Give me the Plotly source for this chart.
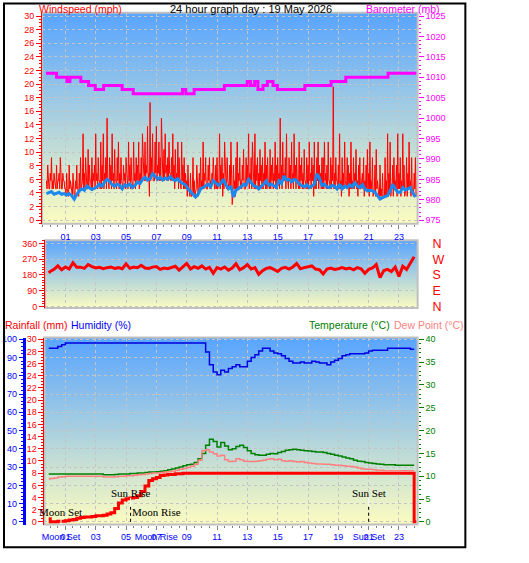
import base64
import plotly.graph_objects as go

W, H = 529, 563

# ---------------- data ----------------
gust_start, gust_step = -0.25, 1 / 12
wind_gust = [
    5.8, 8.1, 4.6,
    6.9, 9.2, 5.8, 6.9, 4.6, 8.1, 5.8, 6.9, 9.2, 4.6, 6.9, 5.8,
    4.6, 6.9, 3.5, 8.1, 5.8, 4.6, 6.9, 3.5, 5.8, 8.1, 4.6, 6.9,
    9.2, 5.8, 12.7, 6.9, 9.2, 4.6, 10.4, 8.1, 5.8, 9.2, 6.9, 8.1,
    12.7, 6.9, 9.2, 5.8, 11.5, 8.1, 12.7, 6.9, 9.2, 15.0, 5.8, 9.2,
    8.1, 12.7, 6.9, 10.4, 5.8, 9.2, 11.5, 6.9, 9.2, 4.6, 8.1, 6.9,
    9.2, 5.8, 11.5, 8.1, 9.2, 4.6, 11.5, 6.9, 9.2, 8.1, 11.5, 6.9,
    9.2, 12.7, 6.9, 11.5, 8.1, 13.8, 6.9, 17.3, 9.2, 12.7, 5.8, 11.5,
    13.8, 8.1, 11.5, 9.2, 15.0, 6.9, 10.4, 12.7, 8.1, 9.2, 11.5, 6.9,
    9.2, 12.7, 8.1, 10.4, 6.9, 11.5, 9.2, 5.8, 11.5, 8.1, 9.2, 6.9,
    5.8, 8.1, 4.6, 6.9, 3.5, 9.2, 5.8, 4.6, 8.1, 3.5, 6.9, 9.2,
    5.8, 11.5, 6.9, 9.2, 4.6, 8.1, 9.2, 5.8, 6.9, 9.2, 4.6, 8.1,
    9.2, 5.8, 12.7, 8.1, 9.2, 6.9, 11.5, 5.8, 9.2, 4.6, 8.1, 11.5,
    2.3, 8.1, 5.8, 9.2, 11.5, 6.9, 9.2, 5.8, 8.1, 10.4, 4.6, 9.2,
    8.1, 12.7, 6.9, 9.2, 11.5, 5.8, 12.7, 8.1, 9.2, 6.9, 10.4, 8.1,
    9.2, 6.9, 11.5, 8.1, 9.2, 5.8, 10.4, 8.1, 9.2, 6.9, 11.5, 8.1,
    9.2, 6.9, 15.0, 8.1, 11.5, 6.9, 9.2, 12.7, 5.8, 9.2, 8.1, 11.5,
    6.9, 12.7, 8.1, 9.2, 5.8, 11.5, 8.1, 9.2, 6.9, 10.4, 5.8, 9.2,
    8.1, 11.5, 6.9, 9.2, 8.1, 11.5, 5.8, 9.2, 11.5, 8.1, 6.9, 9.2,
    9.2, 11.5, 6.9, 8.1, 11.5, 5.8, 9.2, 8.1, 19.6, 6.9, 9.2, 5.8,
    8.1, 12.7, 5.8, 9.2, 6.9, 11.5, 4.6, 9.2, 8.1, 6.9, 11.5, 5.8,
    9.2, 6.9, 10.4, 5.8, 8.1, 9.2, 4.6, 6.9, 9.2, 5.8, 8.1, 10.4,
    6.9, 11.5, 5.8, 9.2, 4.6, 8.1, 10.4, 5.8, 3.5, 8.1, 4.6, 6.9,
    3.5, 9.2, 5.8, 12.7, 6.9, 11.5, 4.6, 8.1, 9.2, 5.8, 8.1, 12.7,
    6.9, 9.2, 5.8, 12.7, 8.1, 4.6, 9.2, 6.9, 11.5, 5.8, 9.2, 4.6,
    6.9, 9.2,
]
# lulls between the gust readings (half a step later)
wind_lull = [
    4.6, 5.8, 4.6,
    5.8, 4.6, 4.6, 5.8, 4.6, 4.6, 5.8, 4.6, 4.6, 4.6, 5.8, 4.6,
    3.5, 4.6, 3.5, 4.6, 4.6, 3.5, 4.6, 3.5, 4.6, 4.6, 3.5, 4.6,
    4.6, 5.8, 4.6, 4.6, 5.8, 4.6, 4.6, 5.8, 4.6, 4.6, 5.8, 4.6,
    5.8, 4.6, 5.8, 4.6, 4.6, 5.8, 4.6, 5.8, 4.6, 5.8, 4.6, 5.8,
    4.6, 5.8, 4.6, 5.8, 4.6, 5.8, 4.6, 4.6, 5.8, 4.6, 5.8, 4.6,
    5.8, 4.6, 5.8, 4.6, 5.8, 4.6, 5.8, 4.6, 5.8, 5.8, 4.6, 5.8,
    5.8, 6.9, 5.8, 5.8, 6.9, 5.8, 3.5, 5.8, 6.9, 5.8, 5.8, 6.9,
    5.8, 6.9, 5.8, 5.8, 6.9, 5.8, 5.8, 6.9, 5.8, 5.8, 6.9, 5.8,
    5.8, 5.8, 4.6, 5.8, 5.8, 4.6, 5.8, 4.6, 5.8, 4.6, 4.6, 4.6,
    3.5, 4.6, 3.5, 3.5, 4.6, 3.5, 3.5, 4.6, 3.5, 4.6, 4.6, 4.6,
    4.6, 4.6, 5.8, 4.6, 4.6, 5.8, 4.6, 4.6, 5.8, 4.6, 4.6, 4.6,
    4.6, 5.8, 4.6, 5.8, 3.5, 4.6, 5.8, 4.6, 5.8, 4.6, 4.6, 3.5,
    3.5, 4.6, 3.5, 4.6, 4.6, 5.8, 4.6, 4.6, 5.8, 4.6, 4.6, 5.8,
    5.8, 4.6, 5.8, 4.6, 5.8, 4.6, 4.6, 5.8, 4.6, 4.6, 5.8, 4.6,
    4.6, 5.8, 4.6, 4.6, 5.8, 4.6, 4.6, 5.8, 4.6, 5.8, 4.6, 4.6,
    5.8, 4.6, 5.8, 4.6, 5.8, 5.8, 4.6, 5.8, 4.6, 5.8, 4.6, 5.8,
    4.6, 5.8, 4.6, 5.8, 4.6, 4.6, 5.8, 4.6, 4.6, 5.8, 4.6, 4.6,
    4.6, 5.8, 4.6, 5.8, 3.5, 4.6, 4.6, 5.8, 4.6, 5.8, 4.6, 4.6,
    4.6, 5.8, 4.6, 4.6, 5.8, 4.6, 4.6, 5.8, 4.6, 4.6, 5.8, 4.6,
    4.6, 4.6, 3.5, 4.6, 4.6, 5.8, 4.6, 4.6, 3.5, 4.6, 4.6, 4.6,
    4.6, 5.8, 4.6, 3.5, 4.6, 4.6, 5.8, 4.6, 3.5, 4.6, 4.6, 4.6,
    3.5, 4.6, 4.6, 3.5, 4.6, 3.5, 4.6, 3.5, 3.5, 3.5, 3.5, 3.5,
    3.5, 3.5, 3.5, 3.5, 4.6, 3.5, 4.6, 3.5, 4.6, 4.6, 3.5, 4.6,
    4.6, 3.5, 4.6, 4.6, 3.5, 4.6, 3.5, 4.6, 4.6, 3.5, 4.6, 3.5,
    4.6, 3.5,
]

avg_start, avg_step = -0.25, 1 / 6
wind_avg = [
    3.9, 4.1,
    4.2, 3.8, 4.0, 4.1, 3.8, 3.9,
    3.7, 3.9, 3.6, 3.1, 3.8, 4.3,
    4.6, 4.4, 5.0, 4.7, 4.5, 4.7,
    4.9, 5.3, 5.0, 5.6, 6.0, 5.7,
    5.2, 5.0, 5.3, 5.1, 4.6, 5.2,
    5.0, 5.3, 4.8, 5.1, 5.6, 5.4,
    6.0, 6.3, 5.9, 6.1, 6.8, 6.5,
    6.0, 6.3, 5.9, 6.2, 6.0, 6.4,
    6.0, 5.8, 6.1, 5.6, 5.4, 5.2,
    4.6, 4.2, 3.9, 3.4, 3.8, 4.6,
    4.8, 5.1, 5.3, 4.9, 5.8, 5.5,
    5.1, 5.4, 6.0, 5.2, 4.6, 5.0,
    3.4, 4.4, 4.6, 4.9, 5.3, 5.1,
    6.0, 5.6, 5.1, 4.9, 4.6, 5.0,
    5.3, 5.8, 5.1, 5.3, 5.0, 4.8,
    5.8, 5.4, 6.5, 5.9, 6.0, 5.6,
    6.0, 5.8, 5.3, 5.1, 4.9, 5.2,
    4.8, 5.0, 5.3, 6.8, 6.2, 5.1,
    5.3, 4.9, 4.8, 5.1, 5.0, 4.6,
    5.3, 4.6, 5.0, 4.8, 5.2, 4.9,
    5.6, 5.0, 4.8, 5.2, 4.6, 4.3,
    4.4, 4.3, 4.1, 3.6, 3.1, 3.3,
    3.4, 3.6, 4.3, 5.3, 4.6, 4.1,
    4.1, 4.8, 4.4, 4.6, 4.8, 4.0,
    3.4,
]

baro_times = [-0.28, 0.42, 1.1, 1.3, 2.02, 2.53, 2.97, 3.52, 4.74, 5.47, 8.72, 8.94,
              9.49, 11.48, 12.99, 13.21, 13.48, 13.7, 14.03, 14.32, 14.69, 14.98,
              16.79, 18.52, 19.49, 22.28, 24.14]
baro_values = [1011, 1010, 1009, 1010, 1009, 1008, 1007, 1008, 1007, 1006, 1007, 1006,
               1007, 1008, 1009, 1008, 1009, 1007, 1008, 1009, 1008, 1007,
               1008, 1009, 1010, 1011, 1011]

# quarter-hour samples (first one just before midnight)
t15 = [-0.1] + [i * 0.25 for i in range(97)]

wind_dir = [
    192,
    200, 212, 232, 210, 226, 214, 250, 224, 225, 218, 240, 228,
    220, 224, 216, 222, 226, 218, 222, 216, 244, 218, 225, 222,
    236, 220, 218, 225, 228, 212, 220, 216, 224, 230, 208, 226,
    246, 215, 228, 218, 232, 214, 224, 190, 222, 214, 226, 208,
    220, 245, 210, 222, 240, 214, 222, 184, 205, 218, 222, 212,
    200, 218, 224, 214, 226, 246, 216, 222, 225, 232, 214, 210,
    186, 214, 220, 212, 216, 222, 215, 220, 210, 222, 216, 190,
    212, 220, 240, 165, 205, 212, 200, 225, 172, 230, 212, 248,
    285,
]

rain = [
    0.5,
    0.0, 0.0, 0.1, 0.1, 0.2, 0.3, 0.4, 0.6, 0.7, 0.8, 0.8, 0.9,
    1.0, 1.0, 1.1, 1.3, 1.5, 2.2, 3.1, 3.6, 3.8, 3.9, 4.0, 4.3,
    5.0, 5.9, 6.8, 7.1, 7.3, 7.6, 7.7, 7.8, 7.8, 7.9, 7.9, 8.0,
    8.0, 8.0, 8.0, 8.0, 8.0, 8.0, 8.0, 8.0, 8.0, 8.0, 8.0, 8.0,
    8.0, 8.0, 8.0, 8.0, 8.0, 8.0, 8.0, 8.0, 8.0, 8.0, 8.0, 8.0,
    8.0, 8.0, 8.0, 8.0, 8.0, 8.0, 8.0, 8.0, 8.0, 8.0, 8.0, 8.0,
    8.0, 8.0, 8.0, 8.0, 8.0, 8.0, 8.0, 8.0, 8.0, 8.0, 8.0, 8.0,
    8.0, 8.0, 8.0, 8.0, 8.0, 8.0, 8.0, 8.0, 8.0, 8.0, 8.0, 8.0,
    8.0,
]
rain_tail_times = [24.0, 24.14]
rain_tail_values = [0.0, 0.0]

humidity = [
    95,
    95, 95, 96, 97, 98, 98, 98, 98, 98, 98, 98, 98,
    98, 98, 98, 98, 98, 98, 98, 98, 98, 98, 98, 98,
    98, 98, 98, 98, 98, 98, 98, 98, 98, 98, 98, 98,
    98, 98, 98, 98, 98, 93, 86, 82, 80.5, 83, 82, 84,
    85, 86, 85, 85, 88, 90, 91.5, 93.5, 95, 95, 93.5, 92.5,
    92, 91, 89.5, 88, 87, 87, 87.5, 87, 87, 88, 87.5, 87,
    87, 86, 87.5, 88.5, 89.5, 91, 91.5, 92, 92, 92, 92, 92.5,
    93.5, 94, 94, 94, 94, 95, 95, 95, 95, 95, 95, 94.5,
    94.5,
]

temperature = [
    10.5,
    10.5, 10.5, 10.5, 10.5, 10.5, 10.5, 10.5, 10.5, 10.5, 10.5, 10.5, 10.5,
    10.5, 10.5, 10.3, 10.3, 10.3, 10.4, 10.5, 10.5, 10.5, 10.6, 10.6, 10.7,
    10.7, 10.8, 10.9, 10.9, 11.0, 11.1, 11.2, 11.4, 11.6, 11.8, 12.0, 12.3,
    12.5, 12.6, 13.0, 13.8, 15.0, 16.8, 18.1, 17.6, 16.4, 17.4, 16.6, 15.8,
    16.0, 16.5, 16.8, 16.3, 15.6, 15.0, 14.7, 14.6, 14.6, 14.8, 15.0, 14.9,
    15.2, 15.4, 15.7, 15.8, 15.9, 15.8, 15.7, 15.6, 15.5, 15.4, 15.3, 15.3,
    15.2, 15.0, 14.8, 14.6, 14.4, 14.2, 14.0, 13.8, 13.5, 13.3, 13.2, 13.0,
    12.9, 12.8, 12.7, 12.6, 12.5, 12.5, 12.5, 12.4, 12.4, 12.4, 12.4, 12.4,
    12.4,
]

dew_point = [
    9.4,
    9.5, 9.6, 9.8, 9.9, 10.0, 10.0, 10.0, 10.0, 10.0, 10.0, 10.0, 10.0,
    10.0, 10.0, 9.8, 9.8, 9.8, 9.9, 10.0, 10.0, 10.1, 10.1, 10.2, 10.3,
    10.4, 10.5, 10.6, 10.7, 10.7, 10.8, 10.9, 11.0, 11.1, 11.3, 11.5, 11.7,
    11.9, 12.2, 12.6, 13.5, 15.6, 15.8, 15.3, 14.9, 14.4, 14.6, 13.6, 13.2,
    13.3, 13.8, 13.6, 13.3, 13.2, 13.2, 13.3, 13.4, 13.5, 13.7, 13.8, 13.6,
    13.7, 13.4, 13.3, 13.4, 13.2, 13.1, 13.2, 13.0, 12.9, 12.8, 12.7, 12.7,
    12.6, 12.6, 12.5, 12.4, 12.4, 12.3, 12.2, 12.1, 12.0, 11.8, 11.6, 11.5,
    11.5, 11.4, 11.3, 11.3, 11.2, 11.2, 11.2, 11.2, 11.2, 11.2, 11.2, 11.2,
    11.2,
]

hour_ticks = [1, 3, 5, 7, 9, 11, 13, 15, 17, 19, 21, 23]
hour_labels = ["01", "03", "05", "07", "09", "11", "13", "15", "17", "19", "21", "23"]

event_times = [0.71, 5.3, 7.0, 21.0]
event_names = ["Moon Set", "Sun Rise", "Moon Rise", "Sun Set"]
axis_event_idx = [0, 2, 3]

compass_vals = [0, 90, 180, 270, 360]
compass_labels = ["N", "E", "S", "W", "N"]

# ---------------- geometry helpers (pixels) ----------------
HOUR0_PX, PX_PER_HOUR = 47.5, 15.25


def fx(p):
    return p / W


def fy(p):
    return 1 - p / H


def hour_at(p):
    return (p - HOUR0_PX) / PX_PER_HOUR


def vrange(top, bot, v1, p1, v2, p2):
    s = (v1 - v2) / (p1 - p2)
    return [v1 + (bot - p1) * s, v1 + (top - p1) * s]


P1 = dict(l=39.3, r=417, t=10, b=224.3)
P2 = dict(l=42.3, r=417, t=241, b=310)
P3 = dict(l=41.7, r=417, t=340, b=530)

RED, MAG, BLUE, GREEN, SALMON = "#ff0000", "#ff00ff", "#0000ff", "#008000", "#ff8080"
GRID = "#c4c4c4"
TICKF = "Liberation Sans"

# gust trace: each gust reading followed by the lull half a step later
gust_x, gust_y = [], []
for i, (g, l) in enumerate(zip(wind_gust, wind_lull)):
    t = gust_start + i * gust_step
    gust_x += [t, t + gust_step / 2]
    gust_y += [g, l]
avg_times = [avg_start + i * avg_step for i in range(len(wind_avg))]

fig = go.Figure()
fig.add_trace(go.Scatter(x=gust_x, y=gust_y, xaxis="x", yaxis="y", mode="lines",
                         line=dict(color=RED, width=1), hoverinfo="skip"))
fig.add_trace(go.Scatter(x=avg_times, y=wind_avg, xaxis="x", yaxis="y", mode="lines",
                         line=dict(color="#1a88f0", width=3), hoverinfo="skip"))
fig.add_trace(go.Scatter(x=baro_times, y=baro_values, xaxis="x", yaxis="y2", mode="lines",
                         line=dict(color=MAG, width=3, shape="hv"), hoverinfo="skip"))
fig.add_trace(go.Scatter(x=t15, y=wind_dir, xaxis="x2", yaxis="y3", mode="lines",
                         line=dict(color=RED, width=3), hoverinfo="skip"))
fig.add_trace(go.Scatter(x=[0], y=[0], xaxis="x2", yaxis="y4", mode="markers",
                         marker=dict(opacity=0), hoverinfo="skip"))
fig.add_trace(go.Scatter(x=t15, y=temperature, xaxis="x3", yaxis="y7", mode="lines",
                         line=dict(color=GREEN, width=1.5, shape="hv"), hoverinfo="skip"))
fig.add_trace(go.Scatter(x=t15, y=dew_point, xaxis="x3", yaxis="y7", mode="lines",
                         line=dict(color=SALMON, width=1.5, shape="hv"), hoverinfo="skip"))
fig.add_trace(go.Scatter(x=t15, y=humidity, xaxis="x3", yaxis="y6", mode="lines",
                         line=dict(color="#0000e0", width=1.5, shape="hv"), hoverinfo="skip"))
fig.add_trace(go.Scatter(x=t15 + rain_tail_times, y=rain + rain_tail_values, xaxis="x3", yaxis="y5",
                         mode="lines", line=dict(color=RED, width=3, shape="hv"), hoverinfo="skip"))
fig.add_trace(go.Scatter(x=[0], y=[0], xaxis="x4", yaxis="y5", mode="markers",
                         marker=dict(opacity=0), hoverinfo="skip"))


def tf(color, size=9):
    return dict(family=TICKF, size=size, color=color)


def minor(dt, color, t0=0, ln=2):
    return dict(tickmode="linear", tick0=t0, dtick=dt, ticks="outside", ticklen=ln,
                tickcolor=color, showgrid=False)


r1x = [hour_at(P1["l"]), hour_at(P1["r"])]
r2x = [hour_at(P2["l"]), hour_at(P2["r"])]
r3x = [hour_at(P3["l"]), hour_at(P3["r"])]

fig.update_layout(
    width=W, height=H, autosize=False,
    margin=dict(l=0, r=0, t=0, b=0, pad=0),
    paper_bgcolor="white", plot_bgcolor="rgba(0,0,0,0)",
    showlegend=False,
    xaxis=dict(domain=[fx(P1["l"]), fx(P1["r"])], range=r1x, anchor="y",
               tickmode="array", tickvals=hour_ticks, ticktext=hour_labels,
               tickfont=tf(BLUE), ticks="outside", ticklen=4, tickcolor="#808080",
               minor=minor(0.5, "#808080"), showgrid=True, gridcolor=GRID, griddash="dot",
               showline=False, zeroline=False),
    yaxis=dict(domain=[fy(P1["b"]), fy(P1["t"])],
               range=vrange(P1["t"], P1["b"], 30, 13.3, 0, 220.7), anchor="x",
               tick0=0, dtick=2, ticks="outside", ticklen=5, tickcolor=RED,
               tickfont=tf(RED), minor=minor(0.5, RED), showline=True, linecolor=RED,
               linewidth=1, showgrid=True, gridcolor=GRID, griddash="dot", zeroline=False),
    yaxis2=dict(overlaying="y", side="right", anchor="x",
                range=vrange(P1["t"], P1["b"], 1025, 13.3, 975, 220.7),
                tick0=975, dtick=5, ticks="outside", ticklen=5, tickcolor=MAG,
                tickfont=tf(MAG), minor=minor(1, MAG, 975), showline=False,
                showgrid=False, zeroline=False),
    xaxis2=dict(domain=[fx(P2["l"]), fx(P2["r"])], range=r2x, anchor="y3",
                tickmode="array", tickvals=hour_ticks, showticklabels=False, ticks="",
                showgrid=True, gridcolor=GRID, griddash="dot", showline=False, zeroline=False),
    yaxis3=dict(domain=[fy(P2["b"]), fy(P2["t"])],
                range=vrange(P2["t"], P2["b"], 360, 244.5, 0, 308.3), anchor="x2",
                tickmode="array", tickvals=compass_vals, ticks="outside", ticklen=5,
                tickcolor=RED, tickfont=tf(RED), minor=minor(15, RED),
                showline=True, linecolor=RED, linewidth=1, showgrid=True, gridcolor=GRID,
                griddash="dot", zeroline=False),
    yaxis4=dict(overlaying="y3", side="right", anchor="free", position=fx(431),
                range=vrange(P2["t"], P2["b"], 360, 244.5, 0, 308.3),
                tickmode="array", tickvals=compass_vals, ticktext=compass_labels,
                tickfont=dict(family=TICKF, size=12.5, color=RED), ticks="",
                showline=False, showgrid=False, zeroline=False),
    xaxis3=dict(domain=[fx(P3["l"]), fx(P3["r"])], range=r3x, anchor="y5",
                tickmode="array", tickvals=hour_ticks, ticktext=hour_labels,
                tickfont=tf(BLUE), ticks="outside", ticklen=4, tickcolor="#808080",
                minor=minor(0.5, "#808080"), showgrid=True, gridcolor=GRID, griddash="dot",
                showline=False, zeroline=False),
    xaxis4=dict(overlaying="x3", domain=[fx(P3["l"]), fx(P3["r"])], range=r3x, anchor="y5",
                side="bottom", tickmode="array",
                tickvals=[event_times[i] for i in axis_event_idx],
                ticktext=[event_names[i] for i in axis_event_idx],
                tickfont=tf(BLUE), ticks="outside", ticklen=4, tickcolor="rgba(0,0,0,0)",
                showgrid=False, showline=False, zeroline=False),
    yaxis5=dict(domain=[fy(P3["b"]), fy(P3["t"])],
                range=vrange(P3["t"], P3["b"], 30, 341.7, 0, 527.3), anchor="x3",
                tick0=0, dtick=2, ticks="outside", ticklen=5, tickcolor=RED,
                tickfont=tf(RED), minor=minor(0.5, RED), showline=True, linecolor=RED,
                linewidth=1, showgrid=False, zeroline=False),
    yaxis6=dict(overlaying="y5", side="left", anchor="free", position=fx(21),
                range=vrange(P3["t"], P3["b"], 100, 341.7, 0, 527.3),
                tick0=0, dtick=10, ticks="outside", ticklen=4, tickcolor=BLUE,
                tickfont=tf(BLUE), minor=minor(2, BLUE), showline=True, linecolor=BLUE,
                linewidth=3, showgrid=True, gridcolor=GRID, griddash="dot", zeroline=False),
    yaxis7=dict(overlaying="y5", side="right", anchor="x3",
                range=vrange(P3["t"], P3["b"], 40, 341.7, 0, 527.3),
                tick0=0, dtick=5, ticks="outside", ticklen=5, tickcolor=GREEN,
                tickfont=tf(GREEN), minor=minor(1, GREEN), showline=False,
                showgrid=False, zeroline=False),
)

# gradient backgrounds
svg = ('<svg xmlns="http://www.w3.org/2000/svg" width="100" height="100" preserveAspectRatio="none">'
       '<defs><linearGradient id="g" x1="0" y1="0" x2="0" y2="1">'
       '<stop offset="0" stop-color="#58a4ff"/><stop offset="1" stop-color="#fcfcc0"/>'
       '</linearGradient></defs><rect width="100" height="100" fill="url(#g)"/></svg>')
src = "data:image/svg+xml;base64," + base64.b64encode(svg.encode()).decode()
images = []
shapes = []
for P in (P1, P2, P3):
    images.append(dict(source=src, xref="paper", yref="paper", x=fx(P["l"]), y=fy(P["t"]),
                       sizex=fx(P["r"]) - fx(P["l"]), sizey=(P["b"] - P["t"]) / H,
                       xanchor="left", yanchor="top", sizing="stretch", layer="below"))
    shapes.append(dict(type="rect", xref="paper", yref="paper", x0=fx(P["l"]), x1=fx(P["r"]),
                       y0=fy(P["b"]), y1=fy(P["t"]), line=dict(color="#c0c0c0", width=2),
                       layer="below"))

# outer black frame
shapes.append(dict(type="rect", xref="paper", yref="paper", x0=fx(1), x1=fx(465),
                   y0=fy(553), y1=fy(0.5), line=dict(color="black", width=2)))

annotations = []
# sun / moon event markers
for t, name in zip(event_times, event_names):
    if name.startswith("Sun"):
        shapes.append(dict(type="line", xref="x3", yref="paper", x0=t, x1=t,
                           y0=fy(503), y1=fy(512), line=dict(color="white", width=1)))
        shapes.append(dict(type="line", xref="x3", yref="paper", x0=t, x1=t,
                           y0=fy(512), y1=fy(530), line=dict(color="black", width=1, dash="dot")))
        ly = 497.7
    else:
        shapes.append(dict(type="line", xref="x3", yref="paper", x0=t, x1=t,
                           y0=fy(522), y1=fy(530), line=dict(color="white", width=1)))
        ly = 517.3
    annotations.append(dict(x=t, xref="x3", y=fy(ly), yref="paper", text=name, showarrow=False,
                            xanchor="center", yanchor="middle",
                            font=dict(family="Liberation Serif", size=11, color="black")))

LBL = "Liberation Sans"


def label(text, x, y, color, anchor="left", size=10.5):
    annotations.append(dict(x=fx(x), y=fy(y), xref="paper", yref="paper", text=text,
                            showarrow=False, xanchor=anchor, yanchor="middle",
                            font=dict(family=LBL, size=size, color=color)))


label("24 hour graph day : 19 May 2026", 249, 6, "black", "center", 11)
label("Windspeed (mph)", 34, 6, RED)
label("Barometer (mb)", 442, 6, MAG, "right")
label("Rainfall (mm)", 0, 327, RED)
label("Humidity (%)", 66, 327, BLUE)
label("Temperature (°C)", 391, 327, GREEN, "right")
label("Dew Point (°C)", 391, 327, SALMON)

fig.update_layout(images=images, shapes=shapes, annotations=annotations)

fig.write_html("out.html", config={"displayModeBar": False, "staticPlot": True},
               post_script="document.body.style.margin='0px';")
